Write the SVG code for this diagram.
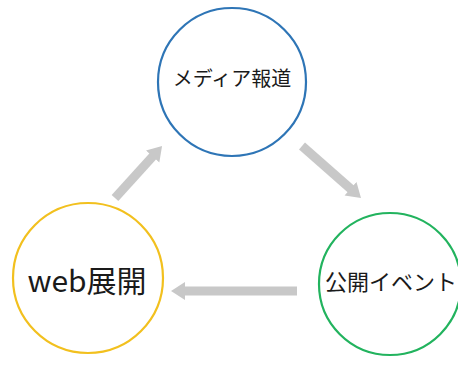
<svg xmlns="http://www.w3.org/2000/svg" width="458" height="365" viewBox="0 0 458 365">
<defs>
<style>
.node circle{fill:#fff;stroke-width:2.2}
.lbl{font-family:"Noto Sans CJK JP","Noto Sans",sans-serif;fill:#1a1a1a;text-anchor:middle}
.conn line{stroke:#c8c8c8;stroke-width:9}
</style>
<marker id="ah" markerUnits="userSpaceOnUse" markerWidth="14" markerHeight="20" refX="2" refY="10" orient="auto" viewBox="0 0 14 20">
<path d="M0,1 L14,10 L0,19 Z" fill="#c8c8c8"/>
</marker>
</defs>
<rect width="458" height="365" fill="#fff"/>
<g id="connectors" class="conn">
<line x1="115" y1="198" x2="154" y2="155" marker-end="url(#ah)"/>
<line x1="302" y1="146" x2="352" y2="190" marker-end="url(#ah)"/>
<line x1="297" y1="291" x2="183" y2="291" marker-end="url(#ah)"/>
</g>
<g id="media" class="node">
<circle cx="232" cy="82" r="74" stroke="#2e75b6"/>
<text class="lbl" x="232" y="86" font-size="20">メディア報道</text>
</g>
<g id="web" class="node">
<circle cx="88" cy="278" r="75" stroke="#f2c01e"/>
<text class="lbl" x="87" y="292" font-size="30">web展開</text>
</g>
<g id="event" class="node">
<circle cx="390" cy="284" r="71" stroke="#22b35e"/>
<text class="lbl" x="391" y="290" font-size="22">公開イベント</text>
</g>
</svg>
